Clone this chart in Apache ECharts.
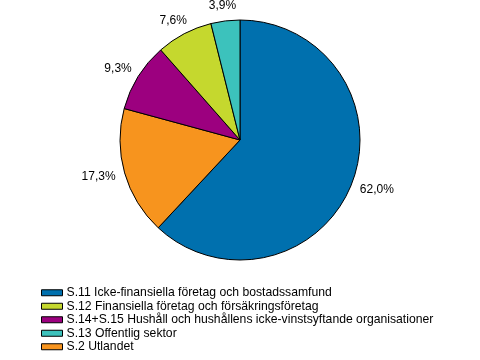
<!DOCTYPE html>
<html><head><meta charset="utf-8">
<script src="https://cdn.jsdelivr.net/npm/echarts@6/dist/echarts.min.js"></script>
<style>html,body{margin:0;padding:0;background:#fff}#c{width:480px;height:360px}</style>
</head><body><div id="c"></div>
<script>
const categories = ["S.11 Icke-finansiella företag och bostadssamfund","S.2 Utlandet","S.14+S.15 Hushåll och hushållens icke-vinstsyftande organisationer","S.12 Finansiella företag och försäkringsföretag","S.13 Offentlig sektor"];
const values = [62.0, 17.3, 9.3, 7.6, 3.9];
const colors = ["#0070AE","#F7941E","#9C007F","#C5D82E","#3CC2BC"];
const legendOrder = ["S.11 Icke-finansiella företag och bostadssamfund","S.12 Finansiella företag och försäkringsföretag","S.14+S.15 Hushåll och hushållens icke-vinstsyftande organisationer","S.13 Offentlig sektor","S.2 Utlandet"];
const CX = 240, CY = 140, R = 120, GAP = 10;
const total = values.reduce((a,b)=>a+b,0);
function midDir(i){
  let cum = 0; for (let k=0;k<i;k++) cum += values[k];
  const a = (cum + values[i]/2)/total*2*Math.PI;
  return [Math.sin(a), -Math.cos(a)];
}
const chart = echarts.init(document.getElementById('c'), null, {renderer:'canvas'});
chart.setOption({
  animation:false,
  legend:{orient:'vertical',left:36,top:281,height:80,itemWidth:21,itemHeight:6,itemGap:0,icon:'rect',
    data:legendOrder,textStyle:{fontFamily:'Liberation Sans',fontSize:12.2,color:'#000',lineHeight:13.5,padding:[0,0,0,-1]},
    itemStyle:{borderColor:'#000',borderWidth:1}},
  series:[{type:'pie',center:[CX,CY],radius:R,startAngle:90,clockwise:true,
    data:categories.map((n,i)=>({name:n,value:values[i],itemStyle:{color:colors[i]}})),
    itemStyle:{borderColor:'#000',borderWidth:1},
    label:{show:true,position:'outside',formatter:p=>p.value.toFixed(1).replace('.',',')+'%',
      fontFamily:'Liberation Sans',fontSize:12,color:'#000'},
    labelLine:{show:false,length:8,length2:0},
    labelLayout:function(p){
      const d = midDir(p.dataIndex);
      const hw = p.labelRect.width/2, hh = 5;
      return {x: CX + d[0]*(R+GAP) + d[0]*hw, y: CY + d[1]*(R+GAP) + d[1]*hh, align:'center', verticalAlign:'middle'};
    },
    emphasis:{disabled:true}
  }]
});
</script></body></html>
